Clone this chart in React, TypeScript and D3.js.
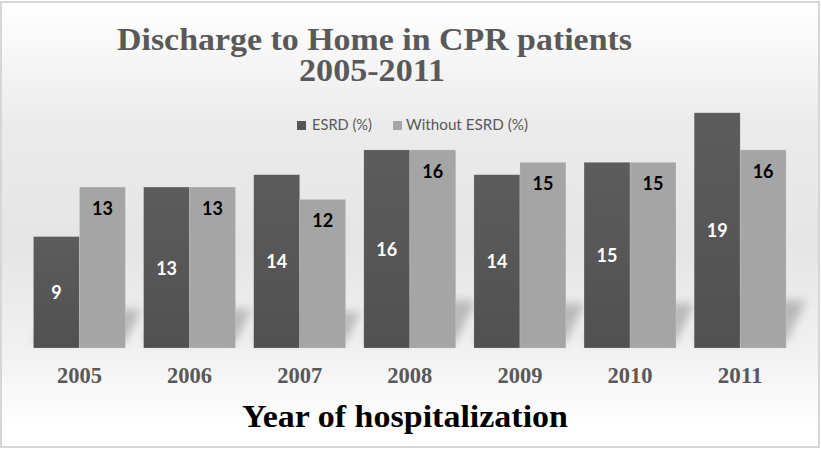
import React from 'react';
import * as d3 from 'd3';

const years = ['2005', '2006', '2007', '2008', '2009', '2010', '2011'];
const esrd = [9, 13, 14, 16, 14, 15, 19];
const withoutEsrd = [13, 13, 12, 16, 15, 15, 16];
const seriesNames = ['ESRD (%)', 'Without ESRD (%)'];
const titleLines = ['Discharge to Home in CPR patients', '2005-2011'];
const xTitle = 'Year of hospitalization';

const W = 821;
const H = 450;
const base = 348;

const App = () => {
  const x = d3.scaleBand().domain(years).range([24.4, 795.2]).paddingInner(0.165).paddingOuter(0.0825);
  const inner = d3.scaleBand().domain(seriesNames).range([0, x.bandwidth()]);
  const y = d3.scaleLinear().domain([0, 20]).range([base, 100.4]);
  const colors = ['url(#darkBar)', '#a5a5a5'];

  const bars = years.flatMap((yr, i) =>
    [esrd[i], withoutEsrd[i]].map((v, s) => ({
      yr, v, s,
      x: (x(yr) || 0) + (inner(seriesNames[s]) || 0),
      w: inner.bandwidth(),
      top: y(v),
    }))
  );

  // soft perspective shadow behind each bar
  const shadow = (b) => {
    const h = base - b.top;
    const sh = h * 0.24;
    const dx = h * 0.1;
    return `M${b.x},${base - 6} L${b.x + b.w},${base - 6} L${b.x + b.w + dx},${base - sh} L${b.x + dx},${base - sh} Z`;
  };

  return (
    <svg width={W} height={H} style={{ position: 'absolute', left: 0, top: 0 }}>
      <defs>
        <linearGradient id="bg" x1="0" y1="0" x2="0" y2="1">
          <stop offset="0" stopColor="#ffffff" />
          <stop offset="0.28" stopColor="#ebebeb" />
          <stop offset="0.55" stopColor="#e5e5e5" />
          <stop offset="0.8" stopColor="#f2f2f2" />
          <stop offset="0.95" stopColor="#ffffff" />
        </linearGradient>
        <linearGradient id="darkBar" x1="0" y1="0" x2="0" y2="1">
          <stop offset="0" stopColor="#5c5c5c" />
          <stop offset="1" stopColor="#515151" />
        </linearGradient>
        <filter id="blur" x="-50%" y="-50%" width="200%" height="200%">
          <feGaussianBlur stdDeviation="5" />
        </filter>
      </defs>
      <rect x={1} y={2} width={W - 3} height={H - 5} fill="url(#bg)" stroke="#d6d6d6" strokeWidth={2} />

      <g fontFamily="'Liberation Serif', 'Times New Roman', serif" fontWeight="bold" fill="#595959" textAnchor="middle">
        <text x={374.5} y={50} fontSize={32} textLength={515} lengthAdjust="spacingAndGlyphs">{titleLines[0]}</text>
        <text x={372} y={81} fontSize={31} textLength={146} lengthAdjust="spacingAndGlyphs">{titleLines[1]}</text>
      </g>

      <g fontFamily="Lato, 'Open Sans', sans-serif" fontSize={15} fill="#595959">
        <rect x={297} y={121} width={9} height={9} fill="#555555" />
        <text x={312} y={130} textLength={60} lengthAdjust="spacingAndGlyphs">{seriesNames[0]}</text>
        <rect x={393} y={121} width={9} height={9} fill="#a5a5a5" />
        <text x={406} y={130} textLength={122} lengthAdjust="spacingAndGlyphs">{seriesNames[1]}</text>
      </g>

      <g filter="url(#blur)" opacity={0.28}>
        {bars.map((b, i) => <path key={i} d={shadow(b)} fill="#303030" />)}
      </g>

      {bars.map((b, i) => (
        <rect key={i} x={b.x} y={b.top} width={b.w} height={base - b.top} fill={colors[b.s]} stroke="rgba(255,255,255,0.25)" strokeWidth={0.6} />
      ))}

      <g fontFamily="Lato, 'Open Sans', sans-serif" fontWeight="bold" fontSize={18} textAnchor="middle">
        {bars.map((b, i) => (
          <text key={i} x={b.x + b.w / 2}
            y={b.s === 0 ? (b.top + base) / 2 + 7 : b.top + 28}
            fill={b.s === 0 ? '#ffffff' : '#000000'}>{b.v}</text>
        ))}
      </g>

      <g fontFamily="'Liberation Serif', 'Times New Roman', serif" fontWeight="bold" fontSize={23} fill="#595959" textAnchor="middle">
        {years.map((yr) => (
          <text key={yr} x={(x(yr) || 0) + x.bandwidth() / 2} y={383} textLength={45} lengthAdjust="spacingAndGlyphs">{yr}</text>
        ))}
      </g>

      <text x={405} y={427} fontFamily="'Liberation Serif', 'Times New Roman', serif" fontWeight="bold" fontSize={32} fill="#000000" textAnchor="middle" textLength={326} lengthAdjust="spacingAndGlyphs">{xTitle}</text>
    </svg>
  );
};

export default App;
